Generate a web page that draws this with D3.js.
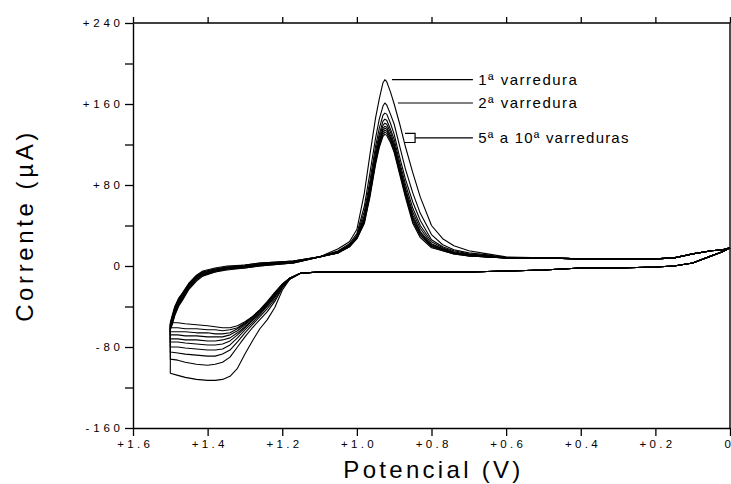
<!DOCTYPE html>
<html>
<head>
<meta charset="utf-8">
<script src="https://cdn.jsdelivr.net/npm/d3@7"></script>
<style>
  html, body { margin: 0; padding: 0; background: #fff; }
  svg { display: block; }
  text { font-family: "Liberation Sans", Arial, Helvetica, sans-serif; fill: #000; }
</style>
</head>
<body>
<svg id="chart" width="731" height="484"></svg>
<script>
// Cyclic voltammogram, 10 successive scans (potential in V, current in µA)

const scans = ["1ª", "2ª", "3ª", "4ª", "5ª", "6ª", "7ª", "8ª", "9ª", "10ª"];

// Forward branch, flat part shared by all scans (0 → +1.0 V)
const lowerFlatV = [0.00, 0.02, 0.05, 0.10, 0.15, 0.20, 0.30, 0.40, 0.50, 0.60, 0.70, 0.80, 0.90, 1.00];
const lowerFlatI = [18, 14, 10, 3, 0, -1, -2, -2, -4, -5, -6, -6, -6, -6];

// Forward branch, oxidation wave up to the switching potential (+1.10 → +1.50 V)
const loopV = [1.10, 1.15, 1.18, 1.20, 1.22, 1.24, 1.26, 1.28, 1.30, 1.32, 1.34, 1.36, 1.38, 1.40, 1.43, 1.46, 1.48, 1.50];
const loopI = [
  [-6, -7, -13, -24, -41, -53, -62, -74, -87, -101, -109, -112, -113, -113, -112, -110, -108, -106],
  [-6, -7, -13, -22, -35, -45, -53, -61, -70, -80, -90, -95, -97, -98, -97, -95, -93, -92],
  [-6, -7, -13, -21, -33, -42, -50, -58, -66, -75, -83, -87, -89, -89, -88, -87, -86, -85],
  [-6, -7, -12, -20, -31, -40, -48, -56, -63, -71, -78, -82, -83, -83, -82, -81, -80, -80],
  [-6, -7, -12, -20, -30, -39, -47, -54, -61, -68, -74, -77, -78, -78, -77, -76, -75, -75],
  [-6, -7, -12, -19, -29, -38, -46, -53, -60, -66, -71, -73, -74, -74, -73, -73, -72, -72],
  [-6, -7, -12, -19, -28, -37, -45, -52, -58, -64, -68, -70, -70, -70, -69, -69, -68, -68],
  [-6, -7, -12, -18, -27, -36, -44, -51, -57, -62, -66, -67, -67, -66, -66, -65, -65, -65],
  [-6, -7, -12, -18, -27, -36, -44, -50, -56, -61, -63, -64, -63, -63, -62, -62, -61, -61],
  [-6, -7, -12, -18, -26, -35, -43, -50, -55, -59, -61, -61, -60, -59, -58, -57, -56, -56]
];

// Reverse branch, right after the switch (+1.50 → +1.17 V)
const upperStartV = [1.50, 1.495, 1.488, 1.478, 1.466, 1.45, 1.43, 1.413, 1.38, 1.348, 1.30, 1.26, 1.17];
const upperStartI = [
  [-63, -58, -49, -40, -33, -23, -15, -10, -6, -4, -2, 0, 3],
  [-62, -57, -48, -39, -32, -22, -14, -9, -6, -3, -2, 0, 3],
  [-61, -56, -47, -38, -31, -21, -13, -9, -5, -3, -1, 1, 3],
  [-60, -55, -46, -37, -30, -20, -12, -8, -5, -3, -1, 1, 4],
  [-59, -54, -45, -36, -29, -20, -12, -8, -4, -2, -1, 1, 4],
  [-58, -53, -44, -35, -28, -19, -11, -7, -4, -2, 0, 2, 4],
  [-58, -52, -43, -34, -28, -18, -11, -7, -4, -2, 0, 2, 4],
  [-57, -51, -42, -33, -27, -18, -10, -6, -3, -1, 0, 2, 5],
  [-57, -50, -41, -33, -26, -17, -10, -6, -3, -1, 1, 3, 5],
  [-56, -49, -40, -32, -26, -17, -9, -5, -2, 0, 1, 3, 5]
];

// Reverse branch, reduction peak (+1.10 → +0.60 V)
const peakV = [1.10, 1.05, 1.02, 1.00, 0.98, 0.965, 0.95, 0.94, 0.93, 0.925, 0.92, 0.91, 0.90, 0.885, 0.87, 0.85, 0.83, 0.80, 0.77, 0.74, 0.70, 0.65, 0.60];
const peakI = [
  [9, 17, 24, 36, 72, 110, 146, 165, 181, 184, 182, 172, 160, 140, 118, 92, 68, 40, 27, 20, 15, 12, 9],
  [9, 15, 22, 32, 59, 92, 126, 145, 158, 161, 159, 150, 140, 118, 96, 72, 52, 31, 21, 16, 13, 11, 8],
  [9, 14, 21, 30, 54, 84, 118, 136, 149, 151, 150, 141, 130, 107, 86, 63, 45, 26, 19, 15, 12, 10, 8],
  [9, 14, 20, 29, 50, 80, 113, 130, 143, 145, 144, 135, 125, 102, 81, 57, 40, 24, 18, 14, 11, 10, 8],
  [9, 14, 20, 29, 48, 77, 109, 127, 139, 141, 140, 132, 121, 99, 77, 53, 37, 22, 17, 13, 11, 10, 8],
  [9, 14, 20, 28, 46, 74, 107, 124, 136, 138, 137, 129, 119, 96, 75, 50, 34, 21, 17, 13, 11, 9, 8],
  [9, 13, 20, 28, 45, 73, 105, 122, 134, 136, 135, 127, 117, 95, 73, 48, 33, 20, 16, 13, 11, 9, 8],
  [9, 13, 19, 28, 44, 71, 103, 121, 132, 134, 133, 126, 115, 93, 71, 46, 31, 20, 16, 13, 10, 9, 8],
  [9, 13, 19, 27, 43, 70, 102, 119, 130, 132, 131, 124, 114, 92, 70, 44, 30, 19, 15, 12, 10, 9, 8],
  [9, 13, 19, 27, 42, 68, 100, 117, 128, 130, 129, 122, 112, 90, 68, 42, 28, 18, 15, 12, 10, 9, 8]
];

// Reverse branch tail shared by all scans (+0.50 → 0 V)
const upperTailV = [0.50, 0.40, 0.30, 0.20, 0.15, 0.10, 0.05, 0.02, 0.00];
const upperTailI = [8, 7, 7, 7, 8, 12, 15, 16, 18];

// Axis ticks
const xTicks = [1.6, 1.4, 1.2, 1.0, 0.8, 0.6, 0.4, 0.2, 0.0];
const yTicks = [-160, -120, -80, -40, 0, 40, 80, 120, 160, 200, 240];
const yLabelled = [-160, -80, 0, 80, 160, 240];

// Peak annotations
const notes = [
  { text: "1ª varredura", scan: 0, fromV: 0.906 },
  { text: "2ª varredura", scan: 1, fromV: 0.890 }
];
const groupNote = { text: "5ª a 10ª varreduras", topI: 131, bottomI: 122, fromV: 0.871, toV: 0.844 };
const noteEndV = 0.689;
const noteTextV = 0.675;

// ---- drawing ----
const svg = d3.select("#chart");
const plotLeft = 133, plotRight = 730, plotTop = 23, plotBottom = 428;

const x = d3.scaleLinear().domain([1.6, 0]).range([plotLeft, plotRight]);
const y = d3.scaleLinear().domain([-160, 240]).range([plotBottom, plotTop]);

const fmtY = d => d > 0 ? "+" + d : d < 0 ? "-" + Math.abs(d) : "0";
const fmtX = d => d === 0 ? "0" : "+" + d.toFixed(1);

// frame: top and right border lines
svg.append("line").attr("x1", plotLeft).attr("x2", plotRight).attr("y1", plotTop).attr("y2", plotTop)
  .attr("stroke", "#000").attr("stroke-width", 1.4);
svg.append("line").attr("x1", plotRight).attr("x2", plotRight).attr("y1", plotTop).attr("y2", plotBottom)
  .attr("stroke", "#000").attr("stroke-width", 1.4);

// top ticks
svg.append("g").attr("transform", `translate(0,${plotTop})`)
  .call(d3.axisTop(x).tickValues(xTicks).tickSize(6).tickSizeOuter(0).tickFormat(""))
  .call(g => g.select(".domain").remove())
  .call(g => g.selectAll("line").attr("stroke-width", 1.3));

// bottom axis
const xLS = 3.3;
svg.append("g").attr("transform", `translate(0,${plotBottom})`)
  .call(d3.axisBottom(x).tickValues(xTicks).tickSize(8).tickSizeOuter(0).tickPadding(4).tickFormat(fmtX))
  .call(g => g.select(".domain").attr("stroke-width", 1.4))
  .call(g => g.selectAll("line").attr("stroke-width", 1.3))
  .call(g => g.selectAll("text")
    .attr("font-family", '"Liberation Sans", Arial, sans-serif')
    .attr("font-size", 11.5).attr("letter-spacing", xLS).attr("dx", xLS / 2))
  // the last label sits on the right border; keep it inside the page
  .call(g => g.selectAll(".tick").filter(d => d === 0).select("text")
    .attr("text-anchor", "end").attr("dx", 0).attr("letter-spacing", 0)
    .attr("x", 731 - plotRight - 0.5));

// left axis
const yLS = 3.8;
svg.append("g").attr("transform", `translate(${plotLeft},0)`)
  .call(d3.axisLeft(y).tickValues(yTicks).tickSize(8).tickSizeOuter(0).tickPadding(5 - yLS)
    .tickFormat(d => yLabelled.includes(d) ? fmtY(d) : ""))
  .call(g => g.select(".domain").attr("stroke-width", 1.4))
  .call(g => g.selectAll("line").attr("stroke-width", 1.3))
  .call(g => g.selectAll("text")
    .attr("font-family", '"Liberation Sans", Arial, sans-serif')
    .attr("font-size", 11.5).attr("letter-spacing", yLS));

// axis titles
svg.append("text")
  .attr("x", (plotLeft + plotRight) / 2 + 2).attr("y", 478)
  .attr("text-anchor", "middle").attr("font-size", 24).attr("letter-spacing", 3.3)
  .text("Potencial (V)");
svg.append("text")
  .attr("transform", `translate(33,${(plotTop + plotBottom) / 2}) rotate(-90)`)
  .attr("text-anchor", "middle").attr("font-size", 24).attr("letter-spacing", 3.6)
  .text("Corrente (µA)");

// voltammograms
const line = d3.line().x(d => x(d[0])).y(d => y(d[1]));
const zip = (vs, is) => vs.map((v, i) => [v, is[i]]);

const curves = scans.map((s, k) => [
  ...zip(lowerFlatV, lowerFlatI),
  ...zip(loopV, loopI[k]),
  ...zip(upperStartV, upperStartI[k]),
  ...zip(peakV, peakI[k]),
  ...zip(upperTailV, upperTailI)
]);

svg.append("g")
  .selectAll("path")
  .data(curves)
  .join("path")
  .attr("d", line)
  .attr("fill", "none")
  .attr("stroke", "#000")
  .attr("stroke-width", 1.1)
  .attr("stroke-linejoin", "round");

// annotations
const ann = svg.append("g");
notes.forEach(n => {
  const yy = y(d3.max(peakI[n.scan]));
  ann.append("line").attr("x1", x(n.fromV)).attr("x2", x(noteEndV)).attr("y1", yy).attr("y2", yy)
    .attr("stroke", "#000").attr("stroke-width", 1.2);
  ann.append("text").attr("x", x(noteTextV)).attr("y", yy + 5)
    .attr("font-size", 15).attr("letter-spacing", 1.5).text(n.text);
});
{
  const y1 = y(groupNote.topI), y2 = y(groupNote.bottomI), ym = (y1 + y2) / 2;
  const xa = x(groupNote.fromV), xb = x(groupNote.toV);
  ann.append("path")
    .attr("d", `M${xa},${y1}H${xb}V${y2}H${xa}M${xb},${ym}H${x(noteEndV)}`)
    .attr("fill", "none").attr("stroke", "#000").attr("stroke-width", 1.2);
  ann.append("text").attr("x", x(noteTextV)).attr("y", ym + 5)
    .attr("font-size", 15).attr("letter-spacing", 1.2).text(groupNote.text);
}
</script>
</body>
</html>
